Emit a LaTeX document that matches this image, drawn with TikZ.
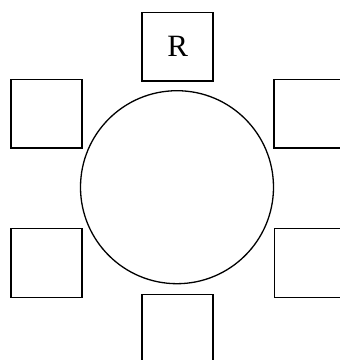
\documentclass[tikz,border=0pt]{standalone}
\usepackage{fontspec}
\setmainfont{Liberation Serif}
\begin{document}
\begin{tikzpicture}[x=1pt,y=-1pt,
  seat/.style={draw=black,line width=1.3pt,rectangle,minimum width=71pt,minimum height=68.5pt,inner sep=0pt,anchor=north west,font=\fontsize{31}{36}\selectfont},
  tablec/.style={draw=black,line width=1.3pt,circle,minimum size=193pt,inner sep=0pt}]
\useasboundingbox (0,0) rectangle (340,360);
\clip (0,0) rectangle (340,360);
\node[seat] (top) at (141.5,11.8) {R};
\node[seat] (lt) at (10.4,78.8) {};
\node[seat] (rt) at (273.4,78.8) {};
\node[seat] (lb) at (10.4,228) {};
\node[seat] (rb) at (274,228) {};
\node[seat] (bot) at (141.5,294) {};
\node[tablec] (table) at (177,187.2) {};
\end{tikzpicture}
\end{document}
